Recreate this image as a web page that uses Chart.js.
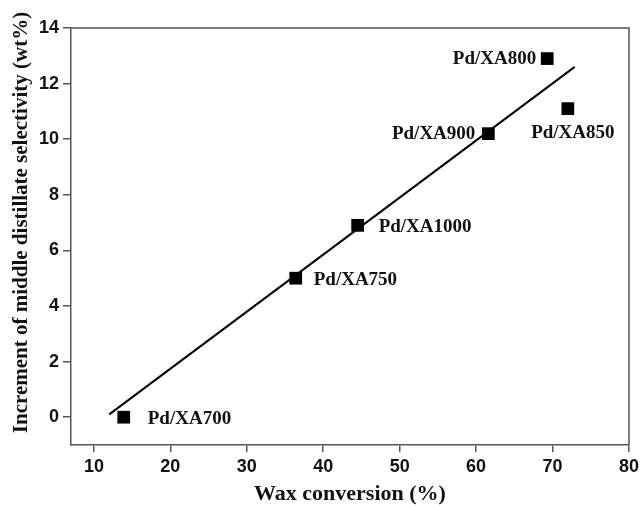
<!DOCTYPE html>
<html>
<head>
<meta charset="utf-8">
<script src="https://cdn.jsdelivr.net/npm/chart.js@4.4.1/dist/chart.umd.min.js"></script>
<style>
  html, body { margin: 0; padding: 0; background: #fff; }
  #wrap { width: 643px; height: 506px; }
</style>
</head>
<body>
<div id="wrap"><canvas id="waxChart" width="643" height="506"></canvas></div>
<script>
// Catalyst samples (wax conversion %, increment of middle distillate selectivity wt%)
const sampleNames = ['Pd/XA700', 'Pd/XA750', 'Pd/XA1000', 'Pd/XA900', 'Pd/XA800', 'Pd/XA850'];
const waxConversion = [13.9, 36.4, 44.5, 61.6, 69.3, 72.0];
const selectivityIncrement = [0.0, 5.0, 6.9, 10.2, 12.9, 11.1];

// linear fit line end points
const fitX = [12.0, 72.9];
const fitY = [0.1, 12.6];

const xTicks = [10, 20, 30, 40, 50, 60, 70, 80];
const yTicks = [0, 2, 4, 6, 8, 10, 12, 14];

const yTitle = 'Increment of middle distillate selectivity (wt%)';

// where each label sits relative to its square
const labelPlacement = {
    'Pd/XA700': { dx: 24, dy: 2, align: 'left' },
    'Pd/XA750': { dx: 18, dy: 2, align: 'left' },
    'Pd/XA1000': { dx: 21, dy: 2, align: 'left' },
    'Pd/XA900': { dx: -13, dy: 0, align: 'right' },
    'Pd/XA800': { dx: -11, dy: 1, align: 'right' },
    'Pd/XA850': { dx: 5, dy: 24, align: 'center' }
};

const frameAndLabels = {
    id: 'frameAndLabels',
    afterDatasetsDraw(chart) {
        const ctx = chart.ctx;
        const area = chart.chartArea;
        const xs = chart.scales.x;
        const ys = chart.scales.y;

        // top and right border of the box
        ctx.save();
        ctx.strokeStyle = '#555';
        ctx.lineWidth = 1.5;
        ctx.beginPath();
        ctx.moveTo(area.left, area.top);
        ctx.lineTo(area.right, area.top);
        ctx.lineTo(area.right, area.bottom);
        ctx.stroke();

        ctx.fillStyle = '#111';
        ctx.font = 'bold 19px "Liberation Serif", "Times New Roman", serif';
        ctx.textBaseline = 'middle';
        sampleNames.forEach(function(name, i) {
            const p = labelPlacement[name];
            ctx.textAlign = p.align;
            ctx.fillText(name, xs.getPixelForValue(waxConversion[i]) + p.dx,
                ys.getPixelForValue(selectivityIncrement[i]) + p.dy);
        });

        // y axis title, sits a little above the middle of the axis
        ctx.translate(ys.left + 14, (area.top + area.bottom) / 2 - 14);
        ctx.rotate(-Math.PI / 2);
        ctx.textAlign = 'center';
        ctx.font = 'bold 21px "Liberation Serif", "Times New Roman", serif';
        ctx.fillText(yTitle, 0, 0);
        ctx.restore();
    }
};

const ctx = document.getElementById('waxChart').getContext('2d');

new Chart(ctx, {
    type: 'scatter',
    data: {
        datasets: [
            {
                type: 'line',
                label: 'Fit',
                data: fitX.map((x, i) => ({ x: x, y: fitY[i] })),
                borderColor: '#000',
                borderWidth: 2,
                pointRadius: 0,
                fill: false,
                tension: 0
            },
            {
                label: 'Samples',
                data: waxConversion.map((x, i) => ({ x: x, y: selectivityIncrement[i] })),
                pointStyle: 'rect',
                pointRadius: 9,
                backgroundColor: '#000',
                borderColor: '#000',
                borderWidth: 0
            }
        ]
    },
    options: {
        responsive: false,
        animation: false,
        layout: {
            padding: { left: 8, right: 14, top: 28, bottom: 0 }
        },
        plugins: {
            legend: { display: false },
            tooltip: { enabled: false }
        },
        scales: {
            x: {
                type: 'linear',
                min: 7,
                max: 80,
                afterBuildTicks: function(scale) {
                    scale.ticks = xTicks.map(v => ({ value: v }));
                },
                afterFit: function(scale) {
                    scale.height = 61;
                },
                border: { display: true, color: '#555', width: 1.5 },
                grid: {
                    drawOnChartArea: false,
                    drawTicks: true,
                    tickLength: 7,
                    color: '#555',
                    lineWidth: 1.5
                },
                ticks: {
                    color: '#111',
                    padding: 4,
                    maxRotation: 0,
                    font: { family: '"Liberation Sans", Arial, sans-serif', size: 18, weight: 'bold' }
                },
                title: {
                    display: true,
                    text: 'Wax conversion (%)',
                    color: '#111',
                    padding: { top: 4, bottom: -2 },
                    font: { family: '"Liberation Serif", "Times New Roman", serif', size: 22, weight: 'bold' }
                }
            },
            y: {
                type: 'linear',
                min: -1,
                max: 14,
                afterBuildTicks: function(scale) {
                    scale.ticks = yTicks.map(v => ({ value: v }));
                },
                afterFit: function(scale) {
                    scale.width = 63;
                },
                border: { display: true, color: '#555', width: 1.5 },
                grid: {
                    drawOnChartArea: false,
                    drawTicks: true,
                    tickLength: 8,
                    color: '#555',
                    lineWidth: 1.5
                },
                ticks: {
                    color: '#111',
                    padding: 4,
                    font: { family: '"Liberation Sans", Arial, sans-serif', size: 18, weight: 'bold' }
                },
                title: { display: false }
            }
        }
    },
    plugins: [frameAndLabels]
});
</script>
</body>
</html>
